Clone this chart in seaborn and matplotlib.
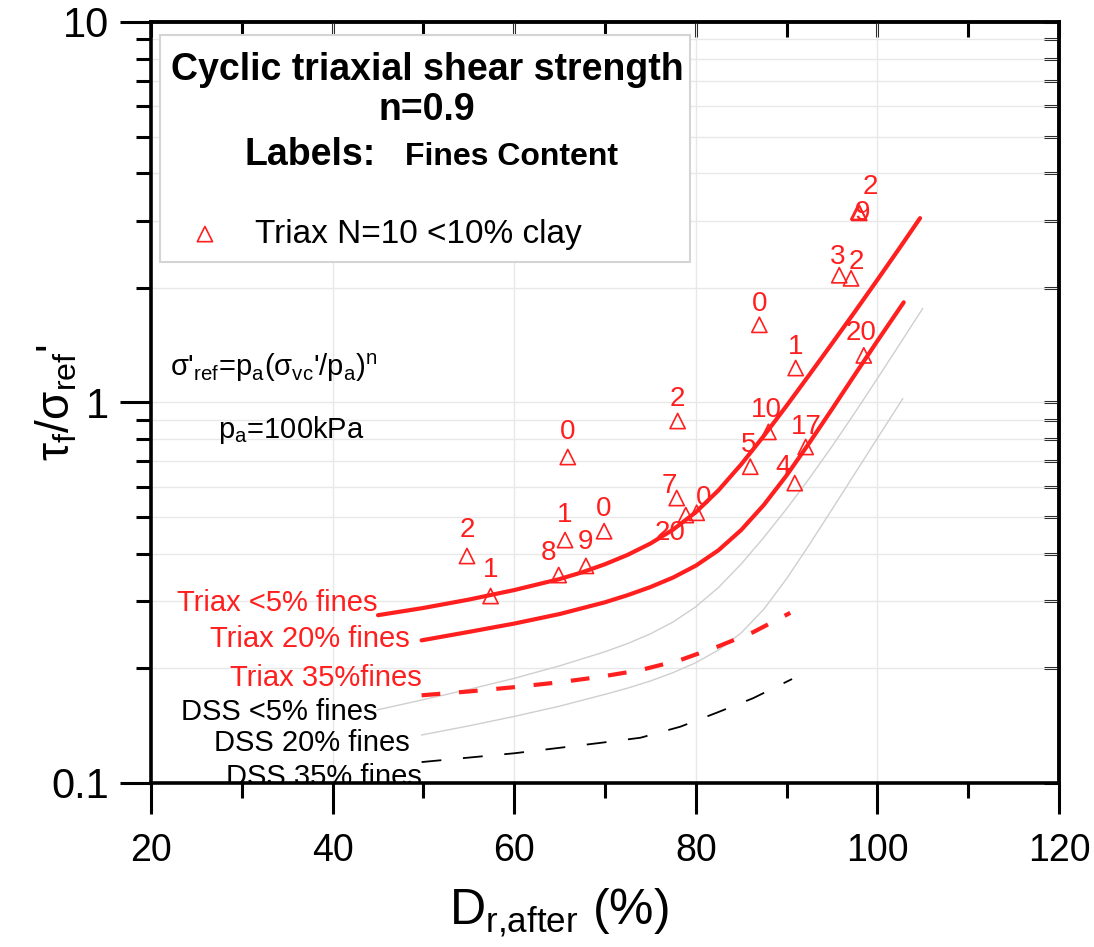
import matplotlib
matplotlib.use("Agg")
import matplotlib.pyplot as plt
import matplotlib.ticker as mticker
from matplotlib.patches import Rectangle
import numpy as np
import pandas as pd
import seaborn as sns

# ---- measured cyclic triaxial points (relative density after consolidation, normalised strength)
dr_after = [54.8, 57.4, 64.9, 65.6, 65.9, 67.9, 69.9, 78.0, 77.9, 78.9, 80.1,
            86.0, 90.9, 88.0, 92.1, 91.0, 87.0, 98.5, 95.8, 97.1, 97.9, 98.0]
tau_ratio = [0.395, 0.310, 0.352, 0.435, 0.719, 0.372, 0.459, 0.894, 0.561, 0.506, 0.513,
             0.678, 0.614, 0.837, 0.764, 1.232, 1.60, 1.33, 2.16, 2.12, 3.17, 3.15]
fines_label = ["2", "1", "8", "1", "0", "9", "0", "2", "7", "20", "0",
               "5", "4", "10", "17", "1", "0", "20", "3", "2", "2", "9"]
# label placement (pixels, right / up from each marker)
label_dx = [0, 0, -10, 0, 0, 0, 0, 0, -7, -16, 7, -2, -12, -2, 1, 0, 0, -3, -2, 5, 12, 3]
label_dy = [26, 26, 22, 25, 25, 24, 22, 22, 12, -18, 15, 22, 16, 22, 20, 21, 21, 22, 18, 16, 25, 0]

# ---- design curves
triax5_x = [45.0, 50.0, 55.0, 60.0, 65.0, 67.5, 70.0, 72.5, 75.0, 77.5, 80.0, 82.5, 85.0,
            87.5, 90.0, 92.5, 95.0, 97.5, 100.0, 102.5, 104.7]
triax5_y = [0.2761, 0.2884, 0.3034, 0.3214, 0.3436, 0.3580, 0.3758, 0.3978, 0.4259, 0.4634,
            0.5148, 0.5879, 0.6878, 0.8176, 0.9806, 1.1822, 1.4289, 1.7298, 2.1012, 2.5586, 3.0513]

triax20_x = [49.8, 55.0, 60.0, 65.0, 70.0, 72.5, 75.0, 77.5, 80.0, 82.5, 85.0, 87.5,
             90.0, 92.5, 95.0, 97.5, 100.0, 102.9]
triax20_y = [0.2371, 0.2495, 0.2624, 0.2780, 0.2985, 0.3117, 0.3273, 0.3467, 0.3725, 0.4090,
             0.4623, 0.5383, 0.6433, 0.7831, 0.9605, 1.1818, 1.4515, 1.8337]

triax35_x = [49.8, 55.0, 60.0, 65.0, 69.4, 73.9, 78.3, 82.3, 86.3, 90.4]
triax35_y = [0.170, 0.174, 0.1786, 0.184, 0.190, 0.198, 0.2105, 0.2277, 0.249, 0.280]

dss5_x = [44.9, 50.0, 55.0, 60.0, 65.0, 70.0, 72.5, 75.0, 77.5, 80.0, 82.5, 85.0, 87.5,
          90.0, 92.5, 95.0, 97.5, 100.0, 102.5, 105.0]
dss5_y = [0.1556, 0.1656, 0.1762, 0.1884, 0.2032, 0.2213, 0.2326, 0.2466, 0.2650, 0.2905,
          0.3265, 0.3764, 0.4422, 0.5256, 0.6318, 0.7666, 0.9389, 1.1565, 1.4289, 1.7682]

dss20_x = [49.8, 55.0, 60.0, 65.0, 70.0, 72.5, 75.0, 77.5, 80.0, 82.5, 85.0, 87.5,
           90.0, 92.5, 95.0, 97.5, 100.0, 102.8]
dss20_y = [0.1337, 0.1413, 0.1496, 0.1592, 0.1710, 0.1776, 0.1854, 0.1950, 0.2071, 0.2236,
           0.2480, 0.2864, 0.3443, 0.4230, 0.5237, 0.6495, 0.8057, 1.0242]

dss35_x = [49.8, 60.0, 69.4, 73.9, 78.3, 82.3, 86.3, 90.6]
dss35_y = [0.1135, 0.1197, 0.1274, 0.1315, 0.1406, 0.153, 0.167, 0.1876]

curve_names = ["Triax <5% fines", "Triax 20% fines", "Triax 35%fines",
               "DSS <5% fines", "DSS 20% fines", "DSS 35% fines"]
curve_name_x = [44.9, 48.5, 49.8, 44.9, 48.5, 49.8]
curve_name_y = [0.283, 0.2277, 0.1798, 0.1464, 0.1213, 0.0988]

x_ticks = [20, 40, 60, 80, 100, 120]
y_ticks = [0.1, 1, 10]

RED = "#ff1f1f"

sns.set_theme(style="white")
plt.rcParams["font.family"] = ["Liberation Sans", "DejaVu Sans"]
plt.rcParams["mathtext.fontset"] = "custom"
plt.rcParams["mathtext.rm"] = "Liberation Sans"
plt.rcParams["mathtext.it"] = "Liberation Sans:italic"
plt.rcParams["mathtext.bf"] = "Liberation Sans:bold"
plt.rcParams["text.color"] = "black"
plt.rcParams["axes.labelcolor"] = "black"
plt.rcParams["xtick.color"] = "black"
plt.rcParams["ytick.color"] = "black"

fig = plt.figure(figsize=(10.94, 9.47), dpi=100)
fig.patch.set_facecolor("white")
ax = fig.add_axes([151 / 1094, 1 - 783 / 947, 908 / 1094, 761 / 947])
ax.set_yscale("log")
ax.set_xlim(20, 120)
ax.set_ylim(0.1, 10)

# ticks and grid
ax.set_xticks(x_ticks)
ax.set_xticks(np.arange(30, 120, 20), minor=True)
ax.set_yticks(y_ticks)
ax.yaxis.set_minor_locator(mticker.LogLocator(base=10, subs=np.arange(2, 10)))
ax.yaxis.set_minor_formatter(mticker.NullFormatter())
ax.yaxis.set_major_formatter(mticker.FuncFormatter(lambda v, p: f"{v:g}"))
ax.grid(True, which="major", axis="x", color="#e8e8e8", lw=1.0)
ax.grid(True, which="both", axis="y", color="#e8e8e8", lw=1.0)
ax.set_axisbelow(True)

# curves
sns.lineplot(x=dss5_x, y=dss5_y, ax=ax, color="#cfcfcf", lw=1.0, sort=False)
sns.lineplot(x=dss20_x, y=dss20_y, ax=ax, color="#cfcfcf", lw=1.0, sort=False)
sns.lineplot(x=dss35_x, y=dss35_y, ax=ax, color="black", lw=1.3, sort=False,
             linestyle=(0, (11, 12)))
sns.lineplot(x=triax35_x, y=triax35_y, ax=ax, color=RED, lw=3.0, sort=False,
             linestyle=(0, (4.5, 4.5)))
sns.lineplot(x=triax20_x, y=triax20_y, ax=ax, color=RED, lw=3.0, sort=False)
sns.lineplot(x=triax5_x, y=triax5_y, ax=ax, color=RED, lw=3.0, sort=False)

# measured points
pts = pd.DataFrame({"dr": dr_after, "tau": tau_ratio})
sns.scatterplot(data=pts, x="dr", y="tau", ax=ax, marker="^", s=120,
                facecolor="none", edgecolor=RED, linewidth=1.2,
                label="Triax N=10 <10% clay", zorder=5)
for xv, yv, lab, dx, dy in zip(dr_after, tau_ratio, fines_label, label_dx, label_dy):
    ax.annotate(lab, (xv, yv), xytext=(dx * 0.72, dy * 0.72), textcoords="offset points",
                ha="center", va="center", color=RED, fontsize=20, zorder=6)

# curve names
for name, xv, yv in zip(curve_names, curve_name_x, curve_name_y):
    ax.text(xv, yv, name, ha="right", va="baseline", fontsize=21,
            color=RED if name.startswith("Triax") else "black", clip_on=True, zorder=3)

# legend block
ax.add_patch(Rectangle((0.0099, 0.6846), 0.5837, 0.2984, transform=ax.transAxes,
                       facecolor="white", edgecolor="#d4d4d4", lw=1.5, zorder=7))
ax.text(0.304, 0.937, "Cyclic triaxial shear strength", transform=ax.transAxes,
        ha="center", va="center", fontsize=27, fontweight="bold", zorder=8)
ax.text(0.304, 0.884, "n=0.9", transform=ax.transAxes,
        ha="center", va="center", fontsize=27, fontweight="bold", zorder=8)
ax.text(0.1035, 0.825, "Labels:", transform=ax.transAxes,
        ha="left", va="center", fontsize=27, fontweight="bold", zorder=8)
ax.text(0.2797, 0.8226, "Fines Content", transform=ax.transAxes,
        ha="left", va="center", fontsize=23, fontweight="bold", zorder=8)
leg = ax.legend(loc="center left", bbox_to_anchor=(0.008, 0.721), frameon=False,
                fontsize=24, handletextpad=0.5, borderaxespad=0, markerscale=1.0)
leg.set_zorder(9)

# formula notes
ax.text(0.021, 0.5453,
        "σ'$_{\\mathrm{ref}}$=p$_{\\mathrm{a}}$(σ$_{\\mathrm{vc}}$'/p$_{\\mathrm{a}}$)$^{\\mathrm{n}}$",
        transform=ax.transAxes, ha="left", va="center", fontsize=21)
ax.text(0.0738, 0.4639, "p$_{\\mathrm{a}}$=100kPa", transform=ax.transAxes,
        ha="left", va="center", fontsize=21)

# axes styling
for sp in ax.spines.values():
    sp.set_linewidth(2.6)
    sp.set_color("black")
    sp.set_zorder(10)
ax.tick_params(axis="both", which="both", bottom=True, left=True, top=False, right=False)
ax.tick_params(axis="both", which="major", direction="out", length=22, width=2.2)
ax.tick_params(axis="both", which="minor", direction="out", length=11, width=2.2)
ax.tick_params(axis="x", which="major", labelsize=27, pad=14)
ax.tick_params(axis="y", which="major", labelsize=30, pad=8)

top = ax.secondary_xaxis("top")
top.set_xticks(np.arange(20, 121, 10))
top.tick_params(direction="in", length=11, width=2.2, labeltop=False)
top.spines["top"].set_linewidth(2.6)
right = ax.secondary_yaxis("right")
right.yaxis.set_minor_locator(mticker.LogLocator(base=10, subs=np.arange(2, 10)))
right.tick_params(which="both", direction="in", length=11, width=2.2,
                  labelright=False)
right.spines["right"].set_linewidth(2.6)

ax.set_xlabel("D$_{\\mathrm{r{,}after}}$ (%)", fontsize=36)
ax.xaxis.set_label_coords(0.449, -0.136)
ax.xaxis.label.set_va("top")
ax.set_ylabel("τ$_{\\mathrm{f}}$/σ$_{\\mathrm{ref}}$'", fontsize=33)
ax.yaxis.set_label_coords(-0.079, 0.5)

fig.savefig("out.png", dpi=100, facecolor="white")
